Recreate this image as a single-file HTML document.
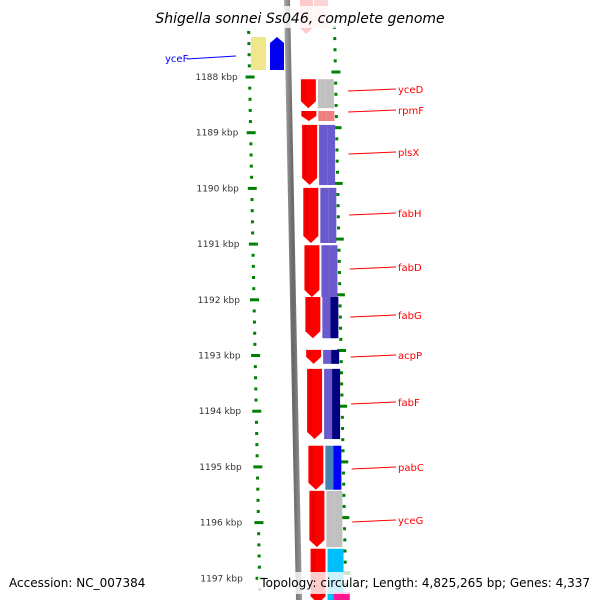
<!DOCTYPE html>
<html><head><meta charset="utf-8"><style>
html,body{margin:0;padding:0;background:#fff;width:600px;height:600px;overflow:hidden}
svg{display:block;font-family:"DejaVu Sans","Liberation Sans",sans-serif}
</style></head><body>
<svg id="map" width="600" height="600" viewBox="0 0 600 600" xmlns="http://www.w3.org/2000/svg"></svg>
<script>
const NS='http://www.w3.org/2000/svg';
const svg=document.getElementById('map');
// data
const kbpLabels=[1188,1189,1190,1191,1192,1193,1194,1195,1196,1197];
const geneNames=['yceD','rpmF','plsX','fabH','fabD','fabG','acpP','fabF','pabC','yceG','next'];
const geneStart=[1188.04,1188.61,1188.86,1189.99,1191.02,1191.95,1192.90,1193.24,1194.62,1195.43,1196.47];
const geneEnd=[1188.56,1188.79,1189.94,1190.98,1191.95,1192.69,1193.15,1194.50,1195.41,1196.44,1197.45];
const cogLeft=['#c0c0c0','#f08080','#6a5acd','#6a5acd','#6a5acd','#6a5acd','#6a5acd','#6a5acd','#4682b4','#c0c0c0','#00bfff'];
const cogRight=['#c0c0c0','#f08080','#6a5acd','#6a5acd','#6a5acd','#000080','#000080','#000080','#0000ff','#c0c0c0','#00bfff'];
const labelY=[90,111,153,214,268,316,356,403,468,521];
const pinkStart=[1197.25];
// scales
const y0=77, pxPerKbp=55.7;
function Y(k){return y0+(k-1188)*pxPerKbp;}
function S(y){return y*0.02;}
function el(t,a,p){const e=document.createElementNS(NS,t);for(const k in a)e.setAttribute(k,a[k]);(p||svg).appendChild(e);return e;}
const defs=el('defs',{});
const lg=el('linearGradient',{id:'gb',x1:0,x2:1,y1:0,y2:0},defs);
el('stop',{offset:0,'stop-color':'#aaa'},lg);el('stop',{offset:0.5,'stop-color':'#666'},lg);el('stop',{offset:1,'stop-color':'#999'},lg);
const bb=el('polygon',{points:`284,0 290,0 302,600 296,600`,fill:'url(#gb)'});

function ticks(xBase,offset,name){
  const g=el('g',{});
  for(let k=1187;k<=1197.5;k+=0.2){
    const kk=Math.round(k*10)/10;const y=Y(kk)+offset;if(y<25||y>600)continue;
    const x=xBase+S(y);const major=Math.abs(kk-Math.round(kk))<0.01;
    el('rect',{x:major?x-4:x-1.5,y:y-1.5,width:major?9:3,height:3,fill:'#008000'},g);
  }
}
ticks(248,0,'left-ticks');ticks(334,-5,'right-ticks');
kbpLabels.forEach(k=>{const y=Y(k);
  const t=el('text',{x:237+S(y)*0.5,y:y+3,'font-size':9,fill:'#333','text-anchor':'end'});t.textContent=k+' kbp';
  });
el('polygon',{points:'300,0 313,0 313,28 306,34 300,28',fill:'#f66',opacity:0.35});
el('rect',{x:314,y:0,width:14,height:28,fill:'#e88',opacity:0.35});
const yb=el('rect',{x:251,y:37,width:15,height:33,fill:'#f0e68c'});
const ya=el('polygon',{points:'270,70 270,43 277,37 284,43 284,70',fill:'#0000ee'});
el('line',{x1:187,y1:59,x2:236,y2:56,stroke:'#00f','stroke-width':1});
const yl=el('text',{x:165,y:62,'font-size':10,fill:'#00f'});yl.textContent='yceF';
geneNames.forEach((n,i)=>{
  let top=Y(Math.min(geneStart[i],geneEnd[i]));
  let bot=Y(Math.max(geneStart[i],geneEnd[i]));
  const s=S((top+bot)/2);const x=299+s, w=15, tip=Math.min(7,(bot-top)/2);
  const g=el('g',{});
  el('polygon',{points:`${x},${top} ${x+w},${top} ${x+w},${bot-tip} ${x+w/2},${bot} ${x},${bot-tip}`,fill:'#ff0000'},g);
  el('rect',{x:x+2,y:top,width:3,height:Math.max(0,bot-top-tip),fill:'#c00',opacity:0.4},g);
  const cx=x+17;
  el('rect',{x:cx,y:top,width:8,height:bot-top,fill:cogLeft[i]},g);
  el('rect',{x:cx+8,y:top,width:8,height:bot-top,fill:cogRight[i]},g);
  if(i<labelY.length){
    const ly=labelY[i];
    el('line',{x1:347+S(ly)*0.5,y1:ly+1,x2:396,y2:ly-1,stroke:'#f00','stroke-width':1});
    const t=el('text',{x:398,y:ly+3,'font-size':10,fill:'#f00'});t.textContent=n;
    
  }
});
pinkStart.forEach(k=>{const p=el('rect',{x:322+S(590),y:Y(k),width:16,height:600-Y(k),fill:'#ff1493'});
  });
el('rect',{x:155,y:6,width:290,height:22,fill:'#fff',opacity:0.8});
const tt=el('text',{x:300,y:23,'font-size':14,'font-style':'italic','text-anchor':'middle',fill:'#000'});tt.textContent='Shigella sonnei Ss046, complete genome';

el('rect',{x:258,y:572,width:336,height:22,fill:'#fff',opacity:0.8});
const a=el('text',{x:9,y:587,'font-size':12,fill:'#000'});a.textContent='Accession: NC_007384';

const tp=el('text',{x:590,y:587,'font-size':12,'text-anchor':'end',fill:'#000'});tp.textContent='Topology: circular; Length: 4,825,265 bp; Genes: 4,337';

</script>
</body></html>
